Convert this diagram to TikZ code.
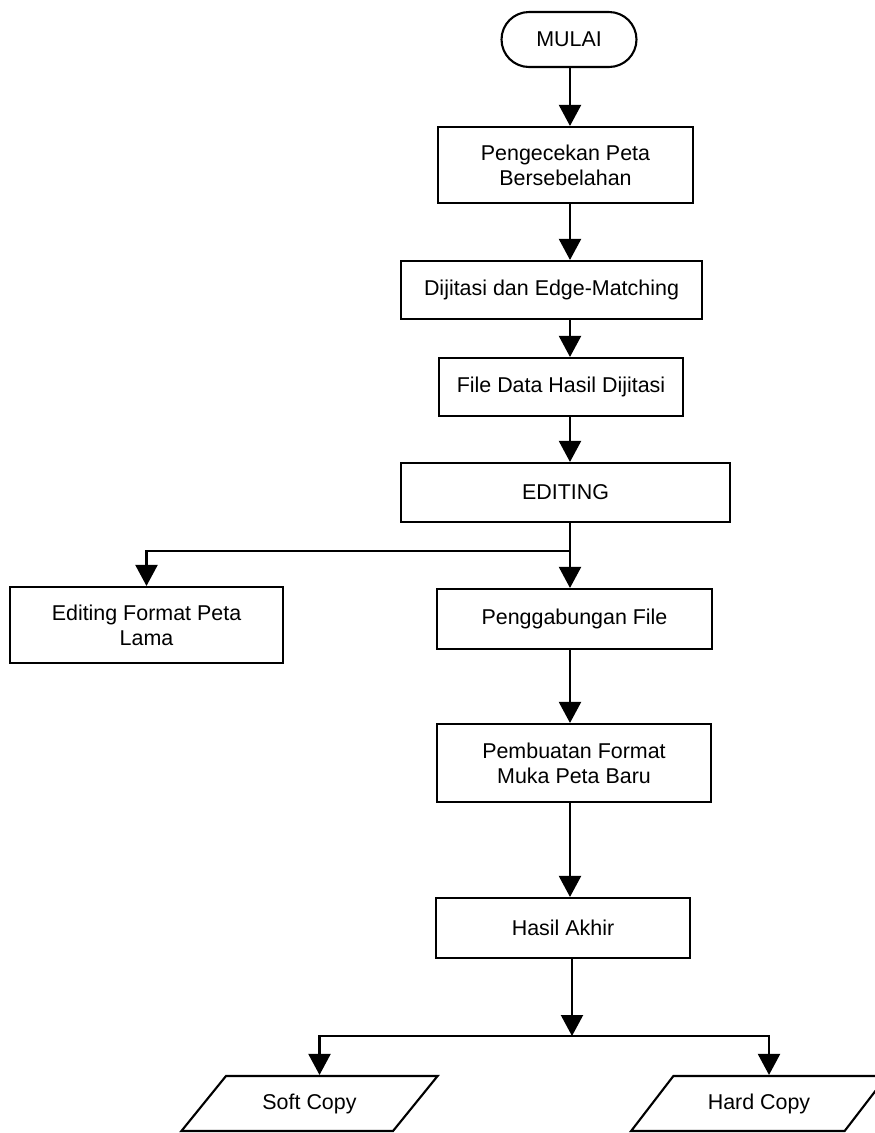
\documentclass[tikz,border=0pt]{standalone}
\usepackage{fontspec}
\setmainfont{Liberation Sans}
\usepackage{tikz}
\usetikzlibrary{shapes.misc}
\usetikzlibrary{shapes.geometric}
\usetikzlibrary{arrows.meta}

\tikzset{
	proses/.style={draw, line width=1.2pt, rectangle, align=center, inner sep=0pt},
	terminal/.style={draw, line width=1.2pt, rounded rectangle, inner sep=0pt},
	keluaran/.style={draw, line width=1.2pt, trapezium, trapezium left angle=45,
		trapezium right angle=135, trapezium stretches=true, inner sep=2pt},
	panah/.style={line width=1.2pt, -{Triangle[width=0.44cm,length=0.42cm]}}
}

\begin{document}
\begin{tikzpicture}[x=0.02cm, y=-0.02cm, every node/.style={font=\fontsize{12.2}{14.2}\selectfont}]
		\useasboundingbox (0,0) rectangle (875,1133);
		\clip (0,0) rectangle (875,1133);
		
		\node[terminal, minimum width=2.7cm, minimum height=1.1cm] (mulai) at (569,39.5) {MULAI};
		\node[proses, minimum width=5.1cm, minimum height=1.52cm] (cek) at (565.5,165) {Pengecekan Peta\\Bersebelahan};
		\node[proses, minimum width=6.02cm, minimum height=1.16cm] (dijit) at (551.5,290) {Dijitasi dan Edge-Matching};
		\node[proses, minimum width=4.88cm, minimum height=1.16cm] (file) at (561,387) {File Data Hasil Dijitasi};
		\node[proses, minimum width=6.58cm, minimum height=1.18cm] (edit) at (565.5,492.5) {EDITING};
		
		\node[proses, minimum width=5.46cm, minimum height=1.52cm] (lama) at (146.5,625) {Editing Format Peta\\Lama};
		\node[proses, minimum width=5.5cm, minimum height=1.2cm] (gabung) at (574.5,619) {Penggabungan File};
		\node[proses, minimum width=5.48cm, minimum height=1.56cm] (muka) at (574,763) {Pembuatan Format\\Muka Peta Baru};
		\node[proses, minimum width=5.08cm, minimum height=1.2cm] (akhir) at (563,928) {Hasil Akhir};
		
		\node[keluaran, minimum width=5.14cm, minimum height=1.1cm] (soft) at (309.5,1103.5) {Soft Copy};
		\node[keluaran, minimum width=5.14cm, minimum height=1.1cm] (hard) at (759,1103.5) {Hard Copy};
		
		% jalur utama
		\coordinate (spine) at (570,0);
		\coordinate (cabang1) at (570,551);
		\coordinate (cabang2) at (572,1036);
		
		\draw [panah] (mulai.south -| spine) -- (cek.north -| spine);
		\draw [panah] (cek.south -| spine) -- (dijit.north -| spine);
		\draw [panah] (dijit.south -| spine) -- (file.north -| spine);
		\draw [panah] (file.south -| spine) -- (edit.north -| spine);
		\draw [panah] (edit.south -| spine) -- (gabung.north -| spine);
		\draw [panah] (cabang1) -| (lama.north);
		\draw [panah] (gabung.south -| spine) -- (muka.north -| spine);
		\draw [panah] (muka.south -| spine) -- (akhir.north -| spine);
		
		% keluaran
		\draw [panah] (akhir.south -| cabang2) -- (cabang2);
		\draw [panah] (cabang2) -| ([xshift=0.2cm]soft.north);
		\draw [panah] (cabang2) -| ([xshift=0.2cm]hard.north);
	\end{tikzpicture}
\end{document}
